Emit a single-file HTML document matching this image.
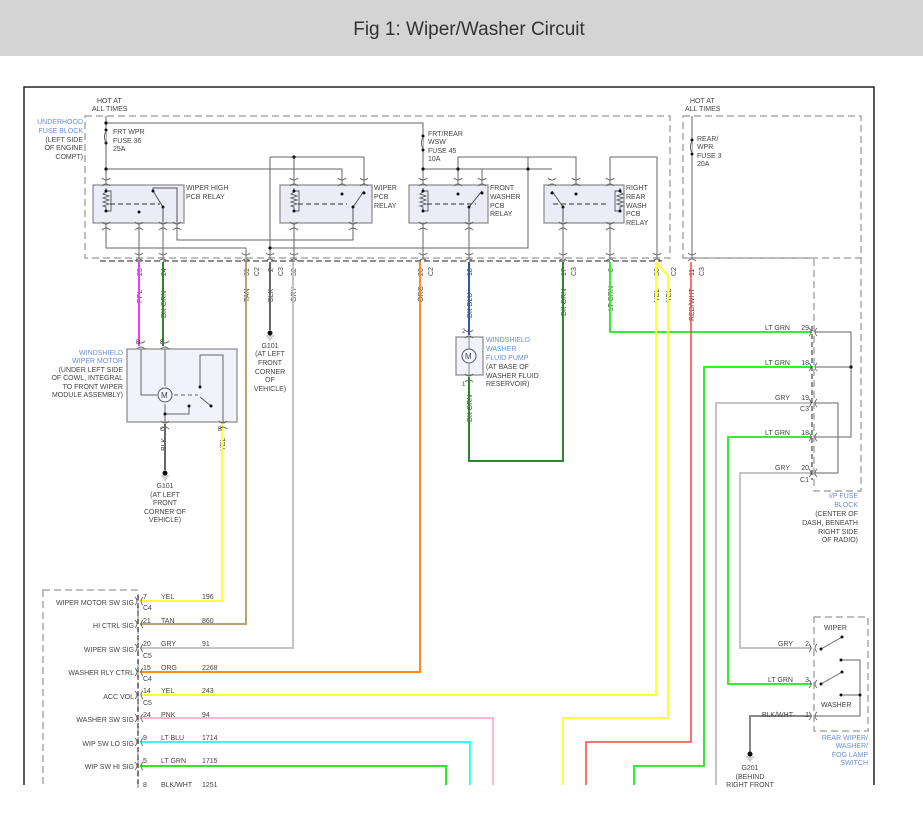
<!DOCTYPE html>
<html><head><meta charset="utf-8"><style>
html,body{margin:0;padding:0;background:#fff;width:923px;height:819px;overflow:hidden}
svg{display:block}
text{font-family:"Liberation Sans",sans-serif;font-size:7px;fill:#444}
.b{fill:#6b8fd6}
.w{fill:none;stroke-width:2}
.g{fill:none;stroke:#666;stroke-width:1}
.d{fill:none;stroke:#aaa;stroke-width:1.5;stroke-dasharray:7,4}
</style></head><body>
<svg width="923" height="819" viewBox="0 0 923 819">
<defs>
<g id="cn"><path d="M-4,-4 q4,4 8,0 M-4,4 q4,-4 8,0" fill="none" stroke="#666" stroke-width="0.9"/></g>
<g id="cl"><path d="M-4,-4 q4,4 0,8 M4,-4 q-4,4 0,8" fill="none" stroke="#666" stroke-width="0.9"/></g>
<g id="gnd"><circle cx="0" cy="0" r="2.5" fill="#111"/><path d="M-4,3 h8 M-2.5,5 h5 M-1,7 h2" stroke="#888" stroke-width="0.8"/></g>
<g id="coil"><path d="M0,0 v4 l-3,2 l6,2 l-6,2 l6,2 l-6,2 l6,2 l-6,2 l3,1 v5" fill="none" stroke="#555" stroke-width="0.9"/><path d="M0,3 h5 v20 h-5" fill="none" stroke="#555" stroke-width="0.9"/><circle cx="0" cy="3" r="1.5" fill="#111"/><circle cx="0" cy="23" r="1.5" fill="#111"/></g>
</defs>
<rect x="0" y="0" width="923" height="56" fill="#d4d4d4"/>
<text x="469" y="35" text-anchor="middle" style="font-size:19px;fill:#333">Fig 1: Wiper/Washer Circuit</text>
<rect x="0" y="785" width="923" height="34" fill="#fff"/>
<path d="M24,785 V87 H874 V785" fill="none" stroke="#222" stroke-width="1.5"/>

<rect x="85" y="116" width="585" height="142" fill="#f2f2fb" class="d"/>
<rect x="683" y="116" width="178" height="142" fill="none" class="d"/>
<path d="M683,258 H814 V491 H861 V258" class="d"/>
<path d="M100,261 H662" stroke="#222" stroke-width="1" stroke-dasharray="6,3"/>
<text x="97" y="103">HOT AT</text><text x="92" y="111">ALL TIMES</text>
<text x="690" y="103">HOT AT</text><text x="685" y="111">ALL TIMES</text>
<g text-anchor="end"><text class="b" x="83" y="124">UNDERHOOD</text><text class="b" x="83" y="133">FUSE BLOCK</text><text x="83" y="142">(LEFT SIDE</text><text x="83" y="150">OF ENGINE</text><text x="83" y="159">COMPT)</text></g>

<g class="g">
<path d="M106,116 V185 M106,123 H423 V185 M106,169 H342 V185"/>
<path d="M270,157 H364 V185 M294,157 V185 M270,157 V258"/>
<path d="M423,169 H528 V157 H458 V185 M482,185 V169 M528,169 V248 H270"/>
<path d="M458,157 H576 V185 M552,169 H528"/>
<path d="M610,157 H657 V258 M610,157 V185"/>
<path d="M692,116 V258"/>
<path d="M106,222 V248 H246 V258 M139,222 V258 M163,222 V258 M177,222 V240 H353 V222"/>
<path d="M294,222 V258 M423,222 V258 M469,222 V258 M563,222 V258 M610,222 V258"/>
</g>
<g fill="#111"><circle cx="106" cy="123" r="1.6"/><circle cx="106" cy="169" r="1.6"/><circle cx="294" cy="157" r="1.6"/><circle cx="270" cy="248" r="1.6"/><circle cx="423" cy="169" r="1.6"/><circle cx="458" cy="169" r="1.6"/><circle cx="528" cy="169" r="1.6"/><circle cx="692" cy="140" r="1.5"/><circle cx="106" cy="130" r="1.5"/><circle cx="106" cy="143" r="1.5"/><circle cx="423" cy="136" r="1.5"/><circle cx="423" cy="150" r="1.5"/><circle cx="692" cy="154" r="1.5"/></g>
<path d="M106,131 q-3,6 0,12 M423,137 q-3,6 0,12 M692,141 q-3,6 0,12" fill="#f2f2fb" stroke="#555"/>
<text x="113" y="134">FRT WPR</text><text x="113" y="143">FUSE 36</text><text x="113" y="151">25A</text>
<text x="428" y="136">FRT/REAR</text><text x="428" y="144">WSW</text><text x="428" y="153">FUSE 45</text><text x="428" y="161">10A</text>
<text x="697" y="141">REAR/</text><text x="697" y="149">WPR</text><text x="697" y="158">FUSE 3</text><text x="697" y="166">20A</text>

<g fill="#ececf8" stroke="#888" stroke-width="1.2">
<rect x="93" y="185" width="91" height="38"/><rect x="280" y="185" width="92" height="38"/>
<rect x="409" y="185" width="79" height="38"/><rect x="544" y="185" width="80" height="38"/></g>
<use href="#coil" x="106" y="188"/><use href="#coil" x="294" y="188"/><use href="#coil" x="423" y="188"/><use href="#coil" x="620" y="188" transform="translate(1240,0) scale(-1,1)"/>
<g stroke="#555" stroke-width="1.2" stroke-dasharray="5,3"><path d="M110,204 H160 M298,204 H347 M427,204 H476 M553,204 H608"/></g>
<g stroke="#555" fill="none"><path d="M153,191 V188 H177 V222 M153,191 L163,207 V222 M364,191 L353,207 V222 M482,191 L469,207 V222 M552,191 L563,207 V222"/></g>
<g fill="#111"><circle cx="153" cy="191" r="1.5"/><circle cx="163" cy="207" r="1.5"/><circle cx="139" cy="212" r="1.5"/><circle cx="342" cy="194" r="1.5"/><circle cx="364" cy="193" r="1.5"/><circle cx="353" cy="207" r="1.5"/><circle cx="458" cy="194" r="1.5"/><circle cx="482" cy="193" r="1.5"/><circle cx="469" cy="207" r="1.5"/><circle cx="552" cy="193" r="1.5"/><circle cx="563" cy="207" r="1.5"/><circle cx="576" cy="194" r="1.5"/></g>
<text x="186" y="190">WIPER HIGH</text><text x="186" y="199">PCB RELAY</text>
<text x="374" y="190">WIPER</text><text x="374" y="199">PCB</text><text x="374" y="208">RELAY</text>
<text x="490" y="190">FRONT</text><text x="490" y="199">WASHER</text><text x="490" y="208">PCB</text><text x="490" y="216">RELAY</text>
<text x="626" y="190">RIGHT</text><text x="626" y="199">REAR</text><text x="626" y="208">WASH</text><text x="626" y="216">PCB</text><text x="626" y="225">RELAY</text>
<g><use href="#cn" x="106" y="182"/><use href="#cn" x="294" y="182"/><use href="#cn" x="342" y="182"/><use href="#cn" x="364" y="182"/><use href="#cn" x="423" y="182"/><use href="#cn" x="458" y="182"/><use href="#cn" x="482" y="182"/><use href="#cn" x="552" y="182"/><use href="#cn" x="576" y="182"/><use href="#cn" x="610" y="182"/>
<use href="#cn" x="106" y="226"/><use href="#cn" x="139" y="226"/><use href="#cn" x="163" y="226"/><use href="#cn" x="177" y="226"/><use href="#cn" x="294" y="226"/><use href="#cn" x="353" y="226"/><use href="#cn" x="423" y="226"/><use href="#cn" x="469" y="226"/><use href="#cn" x="563" y="226"/><use href="#cn" x="610" y="226"/>
<use href="#cn" x="139" y="257"/><use href="#cn" x="163" y="257"/><use href="#cn" x="246" y="257"/><use href="#cn" x="270" y="257"/><use href="#cn" x="294" y="257"/><use href="#cn" x="423" y="257"/><use href="#cn" x="469" y="257"/><use href="#cn" x="563" y="257"/><use href="#cn" x="610" y="257"/><use href="#cn" x="657" y="257"/><use href="#cn" x="692" y="257"/></g>

<g style="font-size:6.5px">
<text transform="translate(142,276) rotate(-90)">23</text><text transform="translate(166,276) rotate(-90)">24</text>
<text transform="translate(249,276) rotate(-90)">31</text><text transform="translate(259,276) rotate(-90)">C2</text>
<text transform="translate(273,272) rotate(-90)">2</text><text transform="translate(283,276) rotate(-90)">C3</text>
<text transform="translate(296,276) rotate(-90)">32</text>
<text transform="translate(423,276) rotate(-90)">26</text><text transform="translate(433,276) rotate(-90)">C2</text>
<text transform="translate(472,276) rotate(-90)">18</text>
<text transform="translate(566,276) rotate(-90)">17</text><text transform="translate(576,276) rotate(-90)">C3</text>
<text transform="translate(613,272) rotate(-90)">8</text>
<text transform="translate(659,276) rotate(-90)">36</text><text transform="translate(676,276) rotate(-90)">C2</text>
<text transform="translate(694,276) rotate(-90)">11</text><text transform="translate(704,276) rotate(-90)">C3</text>
<text transform="translate(142,303) rotate(-90)">PPL</text><text transform="translate(166,318) rotate(-90)">DK GRN</text>
<text transform="translate(249,302) rotate(-90)">TAN</text><text transform="translate(273,302) rotate(-90)">BLK</text>
<text transform="translate(296,302) rotate(-90)">GRY</text><text transform="translate(423,302) rotate(-90)">ORG</text>
<text transform="translate(472,318) rotate(-90)">DK BLU</text><text transform="translate(566,316) rotate(-90)">DK GRN</text>
<text transform="translate(613,311) rotate(-90)">LT GRN</text><text transform="translate(659,302) rotate(-90)">YEL</text>
<text transform="translate(671,302) rotate(-90)">YEL</text><text transform="translate(694,321) rotate(-90)">RED/WHT</text>
<text transform="translate(166,451) rotate(-90)">BLK</text><text transform="translate(225,451) rotate(-90)">YEL</text>
<text transform="translate(472,422) rotate(-90)">DK GRN</text>
</g>

<g class="w">
<path d="M139,262 V346" stroke="#ff33ff"/>
<path d="M163,262 V346" stroke="#2a8a2a"/>
<path d="M246,262 V624 H140" stroke="#b8a070"/>
<path d="M270,262 V330" stroke="#666"/>
<path d="M293,262 V648 H140" stroke="#c4c4c4"/>
<path d="M420,262 V672 H140" stroke="#ff8c1a"/>
<path d="M469,262 V335" stroke="#3355aa"/>
<path d="M469,377 V461 H563 V262" stroke="#2a8a2a"/>
<path d="M610,262 V332 H812" stroke="#33ee33"/>
<path d="M656,262 V695 H140" stroke="#ffff33"/>
<path d="M656,262 L668,276 V718 H563 V785" stroke="#ffff33"/>
<path d="M691,262 V742 H586 V785" stroke="#ff4444" stroke-width="1.5"/>
<path d="M812,367 H704 V766 H634 V785" stroke="#33ee33"/>
<path d="M812,403 H716 V785" stroke="#c4c4c4"/>
<path d="M812,437 H728 V684 H812" stroke="#33ee33"/>
<path d="M812,473 H740 V648 H812" stroke="#c4c4c4"/>
<path d="M812,716 H750 V752" stroke="#888"/>
<path d="M222,424 V601 H140" stroke="#ffff33"/>
<path d="M165,424 V470" stroke="#666"/>
<path d="M140,718 H493 V785" stroke="#ffa0b0" stroke-width="1.5"/>
<path d="M140,742 H470 V785" stroke="#33ffff"/>
<path d="M140,766 H446 V785" stroke="#22ee22"/>
</g>

<use href="#gnd" x="270" y="333"/><use href="#gnd" x="165" y="473"/><use href="#gnd" x="750" y="754"/>
<g text-anchor="middle"><text x="270" y="348">G101</text><text x="270" y="356">(AT LEFT</text><text x="270" y="365">FRONT</text><text x="270" y="374">CORNER</text><text x="270" y="382">OF</text><text x="270" y="391">VEHICLE)</text>
<text x="165" y="488">G101</text><text x="165" y="497">(AT LEFT</text><text x="165" y="505">FRONT</text><text x="165" y="514">CORNER OF</text><text x="165" y="522">VEHICLE)</text>
<text x="750" y="770">G201</text><text x="750" y="779">(BEHIND</text><text x="750" y="787">RIGHT FRONT</text></g>

<rect x="127" y="349" width="110" height="73" fill="#f2f2fb" stroke="#888" stroke-width="1.2"/>
<g class="g"><path d="M141,349 V395 H157 M165,349 V386 M165,404 V422 M165,414 H189 V406 M200,397 L211,406 M200,388 V355 H223 V422"/>
<path d="M174,395 H198" stroke-dasharray="4,3"/></g>
<circle cx="165" cy="395" r="7" fill="#f2f2fb" stroke="#555"/><text x="161" y="398" style="font-size:8px">M</text>
<g fill="#111"><circle cx="165" cy="414" r="1.5"/><circle cx="189" cy="406" r="1.5"/><circle cx="200" cy="387" r="1.5"/><circle cx="211" cy="406" r="1.5"/></g>
<use href="#cn" x="141" y="345"/><use href="#cn" x="165" y="345"/><use href="#cn" x="165" y="425"/><use href="#cn" x="223" y="425"/>
<text x="136" y="344" style="font-size:6px">D</text><text x="160" y="344" style="font-size:6px">E</text><text x="160" y="431" style="font-size:6px">C</text><text x="218" y="431" style="font-size:6px">B</text>
<g text-anchor="end"><text class="b" x="123" y="355">WINDSHIELD</text><text class="b" x="123" y="363">WIPER MOTOR</text><text x="123" y="372">(UNDER LEFT SIDE</text><text x="123" y="380">OF COWL, INTEGRAL</text><text x="123" y="389">TO FRONT WIPER</text><text x="123" y="397">MODULE ASSEMBLY)</text></g>

<rect x="456" y="337" width="27" height="38" fill="#f2f2fb" stroke="#888" stroke-width="1.2"/>
<circle cx="469" cy="356" r="7" fill="#f2f2fb" stroke="#555"/><text x="465" y="359" style="font-size:8px">M</text>
<path d="M469,337 V349 M469,363 V375" stroke="#888"/>
<use href="#cn" x="469" y="334"/><use href="#cn" x="469" y="378"/>
<text x="462" y="333" style="font-size:6px">2</text><text x="462" y="386" style="font-size:6px">1</text>
<text class="b" x="486" y="342">WINDSHIELD</text><text class="b" x="486" y="351">WASHER</text><text class="b" x="486" y="360">FLUID PUMP</text><text x="486" y="369">(AT BASE OF</text><text x="486" y="378">WASHER FLUID</text><text x="486" y="386">RESERVOIR)</text>

<g class="g"><path d="M815,332 H851 V437 H815 M815,367 H851 M815,403 H838 V473 H815"/></g>
<circle cx="851" cy="367" r="1.6" fill="#111"/>
<path d="M812,326 V480" stroke="#222" stroke-dasharray="5,3"/>
<use href="#cl" x="813" y="332"/><use href="#cl" x="813" y="367"/><use href="#cl" x="813" y="403"/><use href="#cl" x="813" y="437"/><use href="#cl" x="813" y="473"/>
<g text-anchor="end"><text x="790" y="330">LT GRN</text><text x="809" y="330">29</text><text x="790" y="365">LT GRN</text><text x="809" y="365">18</text>
<text x="790" y="400">GRY</text><text x="809" y="400">19</text><text x="809" y="411">C3</text>
<text x="790" y="435">LT GRN</text><text x="809" y="435">18</text><text x="790" y="470">GRY</text><text x="809" y="470">20</text><text x="809" y="482">C1</text>
<text class="b" x="858" y="498">I/P FUSE</text><text class="b" x="858" y="507">BLOCK</text><text x="858" y="516">(CENTER OF</text><text x="858" y="525">DASH, BENEATH</text><text x="858" y="534">RIGHT SIDE</text><text x="858" y="542">OF RADIO)</text>
<text x="793" y="646">GRY</text><text x="809" y="646">2</text><text x="793" y="682">LT GRN</text><text x="809" y="682">3</text><text x="793" y="717">BLK/WHT</text><text x="809" y="717">1</text>
<text class="b" x="868" y="740">REAR WIPER/</text><text class="b" x="868" y="748">WASHER/</text><text class="b" x="868" y="757">FOG LAMP</text><text class="b" x="868" y="765">SWITCH</text></g>

<rect x="814" y="617" width="54" height="114" fill="#f2f2fb" class="d"/>
<g class="g"><path d="M821,649 L842,637 M821,684 L842,672 M841,660 H860 V716 H815 M841,695 H860"/></g>
<g fill="#111"><circle cx="821" cy="649" r="1.5"/><circle cx="842" cy="637" r="1.5"/><circle cx="821" cy="684" r="1.5"/><circle cx="842" cy="672" r="1.5"/><circle cx="841" cy="660" r="1.5"/><circle cx="841" cy="695" r="1.5"/><circle cx="860" cy="695" r="1.5"/></g>
<text x="824" y="630">WIPER</text><text x="821" y="707">WASHER</text>
<use href="#cl" x="813" y="648"/><use href="#cl" x="813" y="684"/><use href="#cl" x="813" y="716"/>

<rect x="43" y="590" width="95" height="200" fill="#f2f2fb" class="d"/>
<path d="M138,595 V785" stroke="#222" stroke-dasharray="5,3"/>
<g text-anchor="end"><text x="134" y="605">WIPER MOTOR SW SIG</text><text x="134" y="628">HI CTRL SIG</text><text x="134" y="652">WIPER SW SIG</text><text x="134" y="675">WASHER RLY CTRL</text><text x="134" y="699">ACC VOL</text><text x="134" y="722">WASHER SW SIG</text><text x="134" y="746">WIP SW LO SIG</text><text x="134" y="769">WIP SW HI SIG</text></g>
<g><use href="#cl" x="139" y="601"/><use href="#cl" x="139" y="624"/><use href="#cl" x="139" y="648"/><use href="#cl" x="139" y="672"/><use href="#cl" x="139" y="695"/><use href="#cl" x="139" y="718"/><use href="#cl" x="139" y="742"/><use href="#cl" x="139" y="766"/></g>
<text x="143" y="599">7</text><text x="161" y="599">YEL</text><text x="202" y="599">196</text><text x="143" y="610">C4</text>
<text x="143" y="623">21</text><text x="161" y="623">TAN</text><text x="202" y="623">860</text>
<text x="143" y="646">20</text><text x="161" y="646">GRY</text><text x="202" y="646">91</text><text x="143" y="658">C5</text>
<text x="143" y="670">15</text><text x="161" y="670">ORG</text><text x="202" y="670">2268</text><text x="143" y="681">C4</text>
<text x="143" y="693">14</text><text x="161" y="693">YEL</text><text x="202" y="693">243</text><text x="143" y="705">C5</text>
<text x="143" y="717">24</text><text x="161" y="717">PNK</text><text x="202" y="717">94</text>
<text x="143" y="740">9</text><text x="161" y="740">LT BLU</text><text x="202" y="740">1714</text>
<text x="143" y="763">5</text><text x="161" y="763">LT GRN</text><text x="202" y="763">1715</text>
<text x="143" y="787">8</text><text x="161" y="787">BLK/WHT</text><text x="202" y="787">1251</text>
<rect x="0" y="788" width="923" height="31" fill="#fff"/>
</svg>
</body></html>
